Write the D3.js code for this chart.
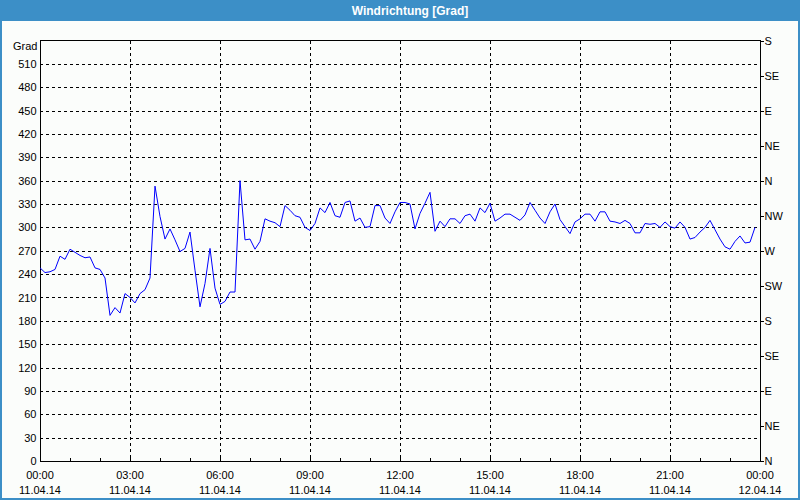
<!DOCTYPE html>
<html><head><meta charset="utf-8">
<script src="https://cdn.jsdelivr.net/npm/d3@7"></script>
<style>
html,body{margin:0;padding:0;background:#fff;}
svg{display:block;}
text{font-family:"Liberation Sans",Arial,sans-serif;}
</style></head>
<body>
<svg id="c" width="800" height="500"></svg>
<script>
const title = "Windrichtung [Grad]";
const yTicks = [0,30,60,90,120,150,180,210,240,270,300,330,360,390,420,450,480,510];
const compassLabels = ["N","NE","E","SE","S","SW","W","NW","N","NE","E","SE","S"];
const compassValues = [0,45,90,135,180,225,270,315,360,405,450,495,540];
const timeTicks = [0,3,6,9,12,15,18,21,24];
const timeLabels = ["00:00","03:00","06:00","09:00","12:00","15:00","18:00","21:00","00:00"];
const dateLabels = ["11.04.14","11.04.14","11.04.14","11.04.14","11.04.14","11.04.14","11.04.14","11.04.14","12.04.14"];
// wind direction every 10 minutes, 00:00 .. 23:50
const values = [
248,242,243,246,263,259,272,268,264,261,262,248,246,235,187,197,190,215,210,203,215,220,235,353,
314,285,298,284,269,273,294,245,198,228,273,222,201,205,217,217,360,284,285,272,282,311,308,306,
301,328,322,315,313,300,296,305,325,319,332,315,313,332,334,308,312,300,301,328,328,312,305,320,
332,332,330,298,318,331,345,295,308,301,311,311,305,315,317,308,325,319,331,308,312,317,317,313,
309,316,332,322,312,305,320,330,310,301,292,307,311,317,317,308,320,320,308,307,305,309,305,293,
293,305,304,305,300,307,301,299,307,300,285,287,294,300,309,297,285,275,272,282,289,280,281,300
];

const svg = d3.select("#c");
const W = 800, H = 500;
const L = 40, R = 760, T = 40.5, B = 461;

svg.append("rect").attr("x",0).attr("y",0).attr("width",W).attr("height",H).attr("fill","#fbfdfb");
// title bar
svg.append("rect").attr("x",0).attr("y",0).attr("width",W).attr("height",21).attr("fill","#3c8fc7");
svg.append("text").attr("x",410).attr("y",15).attr("text-anchor","middle")
  .attr("font-size","12px").attr("font-weight","bold").attr("fill","#fff").text(title);
// window border
svg.append("rect").attr("x",1).attr("y",1).attr("width",W-2).attr("height",H-2)
  .attr("fill","none").attr("stroke","#3c8fc7").attr("stroke-width",2);

const x = d3.scaleLinear().domain([0,24]).range([L,R]);
const y = d3.scaleLinear().domain([0,540]).range([B,T]);

const g = svg.append("g");
// horizontal dashed grid
g.selectAll(".hg").data(yTicks.filter(d=>d>0)).enter().append("line")
  .attr("x1",L).attr("x2",R).attr("y1",d=>Math.round(y(d))+0.5).attr("y2",d=>Math.round(y(d))+0.5)
  .attr("stroke","#000").attr("stroke-dasharray","3,3").attr("shape-rendering","crispEdges");
// vertical dashed grid
g.selectAll(".vg").data(timeTicks.filter(d=>d>0&&d<24)).enter().append("line")
  .attr("y1",T).attr("y2",B).attr("x1",d=>Math.round(x(d))+0.5).attr("x2",d=>Math.round(x(d))+0.5)
  .attr("stroke","#000").attr("stroke-dasharray","3,3").attr("shape-rendering","crispEdges");

// left axis
const yAxis = d3.axisLeft(y).tickValues(yTicks).tickSize(0).tickPadding(4);
const ya = svg.append("g").attr("transform",`translate(${L+0.5},0)`).call(yAxis);
ya.select(".domain").remove();
ya.selectAll("text").attr("font-size","11px").attr("fill","#000").attr("font-family","Liberation Sans, Arial, sans-serif");

// right axis (compass)
const rAxis = d3.axisRight(y).tickValues(compassValues).tickFormat((d,i)=>compassLabels[i]).tickSize(3).tickPadding(1);
const ra = svg.append("g").attr("transform",`translate(${R+0.5},0)`).call(rAxis);
ra.select(".domain").remove();
ra.selectAll("line").attr("stroke","#000").attr("shape-rendering","crispEdges");
ra.selectAll("text").attr("font-size","11px").attr("fill","#000").attr("font-family","Liberation Sans, Arial, sans-serif");

// bottom minor ticks (hourly)
svg.selectAll(".mt").data(d3.range(1,24)).enter().append("line")
  .attr("x1",d=>Math.round(x(d))+0.5).attr("x2",d=>Math.round(x(d))+0.5)
  .attr("y1",B).attr("y2",B-3).attr("stroke","#000").attr("shape-rendering","crispEdges");

// time labels
const xl = svg.append("g");
xl.selectAll(".tl").data(timeTicks).enter().append("text")
  .attr("x",d=>x(d)).attr("y",479).attr("text-anchor","middle").attr("font-size","11px").text((d,i)=>timeLabels[i]);
xl.selectAll(".dl").data(timeTicks).enter().append("text")
  .attr("x",d=>x(d)).attr("y",494).attr("text-anchor","middle").attr("font-size","11px").text((d,i)=>dateLabels[i]);

svg.append("text").attr("x",13).attr("y",50).attr("font-size","11px").text("Grad");

// plot frame
svg.append("rect").attr("x",L+0.5).attr("y",T).attr("width",R-L).attr("height",B-T)
  .attr("fill","none").attr("stroke","#000").attr("shape-rendering","crispEdges");

// data line
const line = d3.line().x((d,i)=>x(i/6)).y(d=>y(d));
svg.append("path").datum(values).attr("d",line).attr("fill","none")
  .attr("stroke","#0000ff").attr("stroke-width",1);
</script>
</body></html>
